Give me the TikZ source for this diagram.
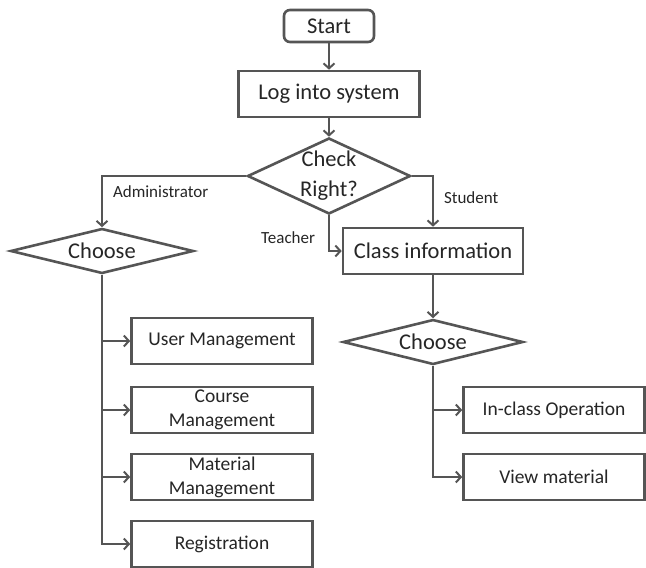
\documentclass[tikz,border=0pt]{standalone}
\usepackage{fontspec}
\setmainfont{Carlito}
\usepackage{xcolor}
\definecolor{fcline}{RGB}{85,85,85}
\definecolor{fctext}{RGB}{38,38,38}
\usetikzlibrary{arrows.meta, shapes.geometric}

\begin{document}
\begin{tikzpicture}[x=1pt, y=-1pt,
    box/.style={draw=fcline, line width=2.6pt, fill=white, inner sep=0pt,
      align=center, text=fctext, font=\fontsize{19.5}{24}\selectfont,
      minimum width=181pt, minimum height=46pt},
    bigbox/.style={box, font=\fontsize{22.5}{27}\selectfont},
    choice/.style={diamond, draw=fcline, line width=2.6pt, fill=white,
      inner sep=-2pt, aspect=2.2, align=center, text=fctext,
      font=\fontsize{22.5}{30}\selectfont},
    conn/.style={draw=fcline, line width=2pt,
      -{Straight Barb[length=5pt,width=11pt]}},
    lbl/.style={text=fctext, font=\fontsize{17}{20}\selectfont, inner sep=0pt}]

  \fill[white] (0,0) rectangle (646,568);
  \useasboundingbox (0,0) rectangle (646,568);

  % Start and login
  \node[bigbox, rounded corners=6pt, minimum width=90pt, minimum height=32pt]
       (start) at (329,26) {Start};
  \node[bigbox] (login) at (329,94) {Log into system};

  % Role check
  \node[choice, minimum width=163pt, minimum height=76pt]
       (check) at (329,176) {Check\\Right?};

  % Administrator branch
  \node[choice, minimum width=183pt, minimum height=45pt]
       (chooseA) at (102,251) {Choose};
  \node[box] (user) at (222,341) {User Management};
  \node[box] (course) at (222,410) {Course\\Management};
  \node[box] (material) at (222,477) {Material\\Management};
  \node[box] (regist) at (222,544) {Registration};

  % Teacher / Student branch
  \node[bigbox, minimum width=180pt] (classinfo) at (433,251) {Class information};
  \node[choice, minimum width=180pt, minimum height=45pt]
       (chooseS) at (433,342) {Choose};
  \node[box] (inclass) at (554,410) {In-class Operation};
  \node[box] (viewmat) at (554,477) {View material};

  % Connectors
  \draw[conn] (start) -- (login);
  \draw[conn] (login) -- (check);
  \draw[conn] (check.west) -| node[lbl, pos=0.65, right=10pt] (labAdmin)
       {Administrator} (chooseA.north);
  \draw[conn] (check.east) -| node[lbl, pos=0.71, right=10pt] (labStudent)
       {Student} (classinfo.north);
  \draw[conn] (check.south) |- node[lbl, pos=0.32, left=13pt] (labTeacher)
       {Teacher} (classinfo.west);
  \draw[conn] (classinfo) -- (chooseS);

  \foreach \b in {user, course, material, regist}
    \draw[conn] (chooseA.south) |- (\b.west);
  \foreach \b in {inclass, viewmat}
    \draw[conn] (chooseS.south) |- (\b.west);
\end{tikzpicture}
\end{document}
